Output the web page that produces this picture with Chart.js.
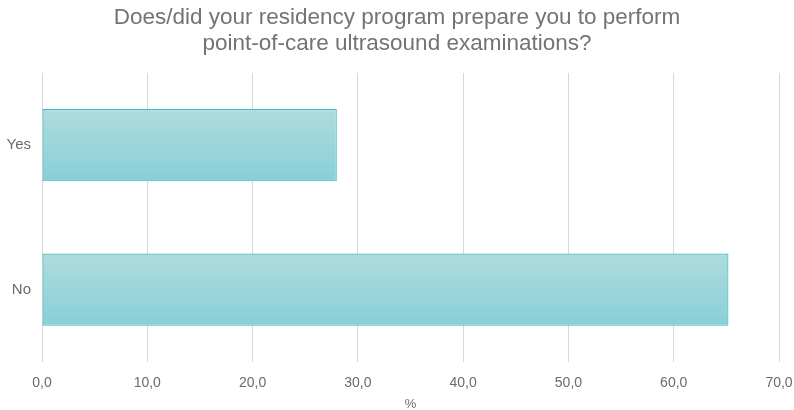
<!DOCTYPE html>
<html>
<head>
<meta charset="utf-8">
<script src="https://cdn.jsdelivr.net/npm/chart.js@4/dist/chart.umd.min.js"></script>
<style>
  html, body { margin: 0; padding: 0; background: #fff; }
  #wrap { width: 794px; height: 410px; }
</style>
</head>
<body>
<div id="wrap"><canvas id="mycanvas"></canvas></div>
<script>
var answers = ['Yes', 'No'];
var percent = [28.0, 65.2];
var xTicks = [0, 10, 20, 30, 40, 50, 60, 70];

var fontName = "'Liberation Sans', Arial, sans-serif";

function barGradient(ctx) {
	var chart = ctx.chart;
	var y = chart.scales.y;
	if (!y || ctx.dataIndex === undefined) return '#9ad5da';
	var mid = y.getPixelForValue(ctx.dataIndex);
	var half = (y.getPixelForValue(1) - y.getPixelForValue(0)) / 4;
	if (!isFinite(mid) || !isFinite(half) || half === 0) return '#9ad5da';
	var g = chart.ctx.createLinearGradient(0, mid - half, 0, mid + half);
	g.addColorStop(0, '#aedcdf');
	g.addColorStop(1, '#89cfd6');
	return g;
}

var chartdata = {
	labels: answers,
	datasets: [{
		data: percent,
		backgroundColor: barGradient,
		borderColor: '#3dbcc4',
		borderWidth: 1.2,
		borderSkipped: false,
		categoryPercentage: 0.5,
		barPercentage: 1
	}]
};

var barGraph = new Chart(document.getElementById('mycanvas'), {
	type: 'bar',
	data: chartdata,
	options: {
		indexAxis: 'y',
		responsive: true,
		maintainAspectRatio: false,
		animation: false,
		layout: { padding: { left: 0, right: 0, top: 0, bottom: 0 } },
		plugins: {
			legend: { display: false },
			tooltip: { enabled: false },
			title: {
				display: true,
				text: ['Does/did your residency program prepare you to perform', 'point-of-care ultrasound examinations?'],
				color: '#737373',
				font: { family: fontName, size: 22.5, weight: 'normal', lineHeight: 1.155 },
				padding: { top: 5, bottom: 16 }
			}
		},
		scales: {
			x: {
				min: 0,
				max: 70,
				afterBuildTicks: function(axis) {
					axis.ticks = xTicks.map(function(v) { return { value: v }; });
				},
				afterFit: function(scale) {
					scale.height = 48;
					scale.paddingLeft = 0;
					scale.paddingRight = 15;
				},
				grid: { color: '#d9d9d9', drawTicks: false },
				border: { display: false },
				ticks: {
					color: '#6b6b6b',
					font: { family: fontName, size: 14 },
					padding: 13,
					callback: function(v) { return v.toFixed(1).replace('.', ','); }
				},
				title: {
					display: true,
					text: '%',
					color: '#6b6b6b',
					font: { family: fontName, size: 13, lineHeight: 1 },
					padding: { top: 0, bottom: -1 }
				}
			},
			y: {
				afterFit: function(scale) { scale.width = 42; },
				grid: { display: false },
				border: { display: false },
				ticks: {
					color: '#6b6b6b',
					font: { family: fontName, size: 15 },
					padding: 3
				}
			}
		}
	}
});
barGraph.update();
</script>
</body>
</html>
